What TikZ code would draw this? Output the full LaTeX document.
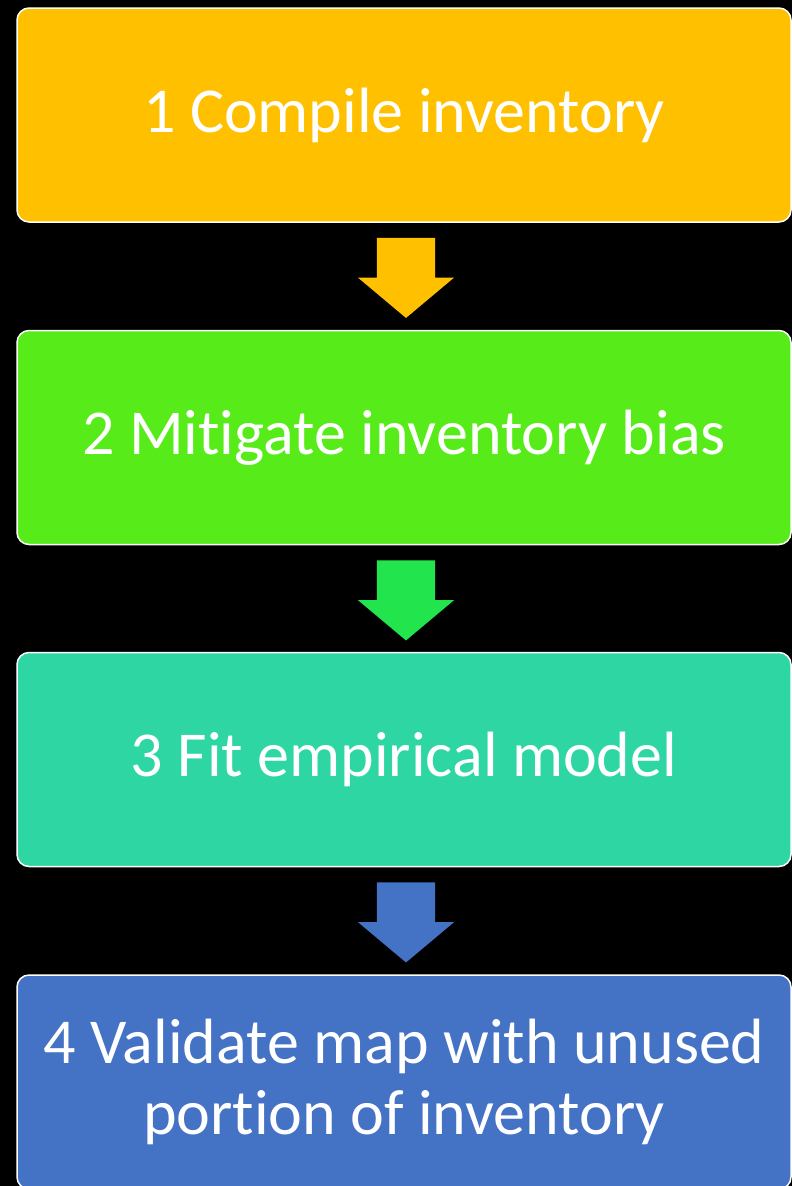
\documentclass[tikz,border=0pt]{standalone}
\usepackage{fontspec}
\setmainfont{Carlito}[Ligatures={NoCommon}]
\usetikzlibrary{positioning,shapes.arrows,calc}

\definecolor{stepyellow}{HTML}{FFC000}
\definecolor{stepgreen}{HTML}{58EB1A}
\definecolor{arrowgreen}{HTML}{22E44C}
\definecolor{stepteal}{HTML}{2ED6A3}
\definecolor{stepblue}{HTML}{4472C4}

\tikzset{
    stepbox/.style={draw=white,line width=1.5pt,rounded corners=12pt,minimum width=774pt,minimum height=214pt,
        text=white,align=center,inner sep=0pt,font=\fontsize{64}{71}\selectfont},
    flowarrow/.style={single arrow,rotate=-90,draw=none,minimum height=80pt,inner xsep=0pt,inner ysep=29pt,
        single arrow head extend=19pt,single arrow tip angle=100,anchor=tail}
}

\begin{document}
\begin{tikzpicture}[x=1pt,y=-1pt]
        \useasboundingbox (0,0) rectangle (792,1186);
        \fill[black] (0,0) rectangle (792,1186);

        \node[stepbox,fill=stepyellow] (s1) at (404,115) {1 Compile inventory};
        \node[stepbox,fill=stepgreen] (s2) at (404,437.5) {2 Mitigate inventory bias};
        \node[stepbox,fill=stepteal] (s3) at (404,759.5) {3 Fit empirical model};
        \node[stepbox,fill=stepblue] (s4) at (404,1082) {4 Validate map with unused\\portion of inventory};

        \foreach \a/\b/\col in {s1/s2/stepyellow,s2/s3/arrowgreen,s3/s4/stepblue} {
            \node[flowarrow,fill=\col] (a\a) at ($(\a.south)+(2,15)$) {};
        }
\end{tikzpicture}
\end{document}
